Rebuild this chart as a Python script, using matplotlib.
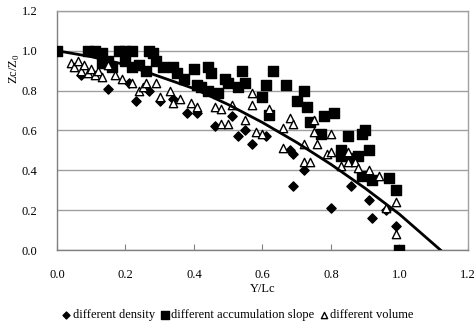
import matplotlib
matplotlib.use("Agg")
import matplotlib.pyplot as plt

plt.rcParams['font.family'] = ['Liberation Serif', 'DejaVu Serif']
plt.rcParams['mathtext.fontset'] = 'custom'
plt.rcParams['mathtext.rm'] = 'Liberation Serif'

# different density (filled diamonds)
den_x = [0.07, 0.15, 0.21, 0.23, 0.27, 0.30, 0.34, 0.38, 0.41, 0.46, 0.51, 0.53, 0.55,
         0.57, 0.61, 0.68, 0.69, 0.72, 0.69, 0.80, 0.86, 0.91, 0.92, 0.96, 0.99]
den_y = [0.88, 0.81, 0.84, 0.75, 0.80, 0.75, 0.76, 0.69, 0.69, 0.62, 0.67, 0.57, 0.60,
         0.53, 0.57, 0.50, 0.48, 0.40, 0.32, 0.21, 0.32, 0.25, 0.16, 0.20, 0.12]

# different accumulation slope (filled squares)
slo_x = [0.00, 0.09, 0.11, 0.13, 0.18, 0.20, 0.22, 0.27, 0.28,
         0.13, 0.15, 0.16, 0.20, 0.22, 0.24, 0.26,
         0.29, 0.31, 0.34, 0.35, 0.37, 0.40, 0.44, 0.45, 0.41, 0.42,
         0.49, 0.50, 0.53, 0.54, 0.55, 0.44, 0.47,
         0.61, 0.63, 0.67, 0.60, 0.72, 0.70, 0.73, 0.74, 0.62, 0.78, 0.81,
         0.77, 0.85, 0.89, 0.90, 0.83, 0.88, 0.91,
         0.83, 0.86, 0.89, 0.92, 0.97, 0.99, 1.00]
slo_y = [1.00, 1.00, 1.00, 0.99, 1.00, 1.00, 1.00, 1.00, 0.99,
         0.94, 0.95, 0.92, 0.95, 0.92, 0.93, 0.90,
         0.95, 0.92, 0.92, 0.89, 0.86, 0.91, 0.92, 0.89, 0.83, 0.82,
         0.86, 0.84, 0.82, 0.90, 0.84, 0.80, 0.79,
         0.83, 0.90, 0.83, 0.77, 0.80, 0.75, 0.72, 0.64, 0.68, 0.67, 0.69,
         0.58, 0.57, 0.58, 0.60, 0.50, 0.47, 0.50,
         0.47, 0.46, 0.37, 0.35, 0.36, 0.30, 0.00]

# different volume (open triangles)
vol_x = [0.04, 0.05, 0.06, 0.07, 0.08, 0.09, 0.10, 0.11, 0.12, 0.13, 0.15,
         0.17, 0.19, 0.22, 0.24, 0.25, 0.26, 0.29, 0.30, 0.33, 0.34, 0.36, 0.39, 0.41, 0.46, 0.48, 0.51,
         0.57, 0.57, 0.62, 0.68, 0.75, 0.48, 0.50, 0.55,
         0.58, 0.60, 0.66, 0.69, 0.75, 0.80,
         0.66, 0.72, 0.76, 0.79, 0.72, 0.74,
         0.80, 0.83, 0.85, 0.85, 0.87, 0.88, 0.91, 0.94, 0.96, 0.99, 0.99]
vol_y = [0.94, 0.92, 0.95, 0.90, 0.93, 0.89, 0.91, 0.88, 0.90, 0.87, 0.93,
         0.88, 0.86, 0.84, 0.80, 0.82, 0.84, 0.84, 0.77, 0.80, 0.74, 0.76, 0.74, 0.72, 0.72, 0.71, 0.73,
         0.79, 0.73, 0.71, 0.66, 0.65, 0.63, 0.63, 0.65,
         0.59, 0.58, 0.61, 0.63, 0.59, 0.58,
         0.51, 0.53, 0.53, 0.48, 0.44, 0.44,
         0.49, 0.42, 0.49, 0.44, 0.44, 0.41, 0.40, 0.37, 0.21, 0.24, 0.08]

# trend curve, points
fit_x = [0.0, 0.1, 0.2, 0.3, 0.4, 0.5, 0.6, 0.7, 0.8, 0.9, 1.0, 1.12]
fit_y = [1.0, 0.97, 0.93, 0.87, 0.81, 0.73, 0.64, 0.54, 0.43, 0.31, 0.18, 0.0]

fig = plt.figure(figsize=(4.75, 3.29), dpi=100)
ax = fig.add_axes([0.12, 0.24, 0.865, 0.727])

ax.scatter(den_x, den_y, marker='D', s=22, c='black', zorder=3, label='different density')
ax.scatter(slo_x, slo_y, marker='s', s=50, c='black', zorder=3,
           label='different accumulation slope')
ax.scatter(vol_x, vol_y, marker='^', s=36, facecolors='white', edgecolors='black',
           linewidths=1.0, zorder=4, label='different volume')
ax.plot(fit_x, fit_y, color='black', lw=2, zorder=5)

ax.set_xlim(0, 1.2)
ax.set_ylim(0, 1.2)
ax.set_xticks([0.0, 0.2, 0.4, 0.6, 0.8, 1.0, 1.2])
ax.set_yticks([0.0, 0.2, 0.4, 0.6, 0.8, 1.0, 1.2])
ax.xaxis.set_major_formatter(plt.FormatStrFormatter('%.1f'))
ax.yaxis.set_major_formatter(plt.FormatStrFormatter('%.1f'))
ax.tick_params(axis='x', direction='in', length=4, color='#808080', pad=14, labelsize=9)
ax.tick_params(axis='y', length=0, pad=14, labelsize=9)
ax.grid(axis='y', color='#a0a0a0', lw=1)
ax.set_axisbelow(True)
for sp in ax.spines.values():
    sp.set_color('#a0a0a0')
    sp.set_linewidth(1)
ax.spines['left'].set_color('#808080')
ax.spines['bottom'].set_color('#808080')

ax.set_xlabel('Y/Lc', fontsize=9, labelpad=1)
ax.set_ylabel('Zc/Z$_0$', fontsize=9)
ax.yaxis.set_label_coords(-0.085, 0.76)

fig.legend(loc='lower center', bbox_to_anchor=(0.5, -0.01), ncol=3, frameon=False,
           fontsize=9, handletextpad=0.1, columnspacing=0.4, markerscale=0.75,
           handlelength=0.8)

fig.savefig('out.png', dpi=100)
